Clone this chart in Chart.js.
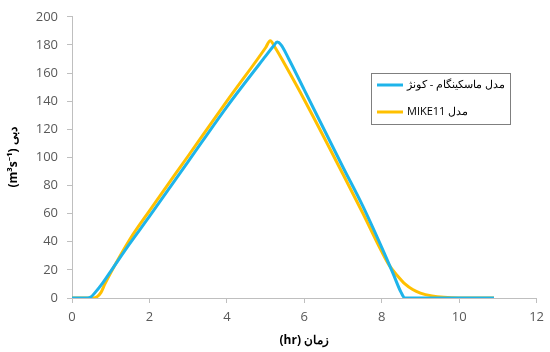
<!DOCTYPE html>
<html>
<head>
<meta charset="utf-8">
<script src="https://cdn.jsdelivr.net/npm/chart.js@4.4.0/dist/chart.umd.min.js"></script>
<style>
  html, body { margin: 0; padding: 0; background: #fff; }
  #wrap { width: 550px; height: 352px; }
</style>
</head>
<body>
<div id="wrap"><canvas id="chart" width="550" height="352"></canvas></div>
<script>
// Muskingum-Cunge model (blue)
const mcTime = [0, 0.4, 0.5, 0.6, 0.8, 1.0, 1.5, 2, 3, 4, 5, 5.2, 5.3, 5.4, 5.6, 6, 7, 7.5, 8, 8.3, 8.5, 8.6, 10.9];
const mcFlow = [0, 0, 1, 4, 11, 19, 39, 58, 97, 136, 172, 179, 182, 180, 170, 148, 93, 66, 36, 17, 4, 0, 0];

// MIKE11 model (yellow)
const mikeTime = [0, 0.55, 0.65, 0.75, 0.85, 1.0, 1.5, 2, 3, 4, 5, 5.12, 5.25, 5.5, 6, 7, 7.5, 8, 8.2, 8.4, 8.6, 8.8, 9, 9.3, 9.6, 10, 10.9];
const mikeFlow = [0, 0, 1, 4, 10, 18, 42, 62, 101, 140, 178, 183, 178, 166, 141, 88, 61, 33, 23, 16, 10, 6, 3.5, 1.5, 0.5, 0, 0];

const seriesLabels = ['مدل ماسکینگام - کونژ', 'MIKE11 مدل'];
const xTitle = '(hr) زمان';
const yTitle = '(m³s⁻¹) دبی';

const toPoints = (xs, ys) => xs.map((x, i) => ({ x: x, y: ys[i] }));

const FONT = '"Open Sans", "Noto Sans", sans-serif';

// legend drawn as a bordered box inside the plot, like the original
const boxLegend = {
    id: 'boxLegend',
    afterDraw(chart) {
        const ctx = chart.ctx;
        const x = 371, y = 73, w = 139, h = 51;
        ctx.save();
        ctx.strokeStyle = '#7f7f7f';
        ctx.lineWidth = 1;
        ctx.strokeRect(x + 0.5, y + 0.5, w, h);
        ctx.font = '11px ' + FONT;
        ctx.fillStyle = '#000';
        ctx.textBaseline = 'middle';
        ctx.textAlign = 'left';
        chart.data.datasets.forEach((ds, i) => {
            const ly = y + 12 + i * 27;
            ctx.strokeStyle = ds.borderColor;
            ctx.lineWidth = 3;
            ctx.beginPath();
            ctx.moveTo(x + 6, ly);
            ctx.lineTo(x + 32, ly);
            ctx.stroke();
            ctx.fillText(ds.label, x + 36, ly);
        });
        ctx.restore();
    }
};

new Chart(document.getElementById('chart'), {
    type: 'scatter',
    data: {
        datasets: [
            {
                label: seriesLabels[0],
                data: toPoints(mcTime, mcFlow),
                showLine: true,
                borderColor: '#1eb4ea',
                borderWidth: 3,
                pointRadius: 0,
                cubicInterpolationMode: 'monotone'
            },
            {
                label: seriesLabels[1],
                data: toPoints(mikeTime, mikeFlow),
                showLine: true,
                borderColor: '#ffc000',
                borderWidth: 3,
                pointRadius: 0,
                cubicInterpolationMode: 'monotone'
            }
        ]
    },
    options: {
        responsive: false,
        animation: false,
        layout: { padding: { top: 16, right: 6, left: 0, bottom: 0 } },
        plugins: { legend: { display: false }, tooltip: { enabled: false } },
        scales: {
            x: {
                type: 'linear', min: 0, max: 12,
                afterFit(scale) { scale.height = 54; },
                ticks: { stepSize: 2, color: '#595959', padding: 6, font: { family: FONT, size: 13 } },
                grid: { drawOnChartArea: false, drawTicks: true, tickLength: 5, color: '#bfbfbf' },
                border: { color: '#bfbfbf' },
                title: { display: true, text: xTitle, color: '#000', padding: { top: 2 }, font: { family: FONT, size: 12, weight: 'bold' } }
            },
            y: {
                min: 0, max: 200,
                afterFit(scale) { scale.width = 72; },
                ticks: { stepSize: 20, color: '#595959', padding: 9, font: { family: FONT, size: 13 } },
                grid: { drawOnChartArea: false, drawTicks: true, tickLength: 5, color: '#bfbfbf' },
                border: { color: '#bfbfbf' },
                title: { display: true, text: yTitle, color: '#000', padding: { top: 6 }, font: { family: FONT, size: 12, weight: 'bold' } }
            }
        }
    },
    plugins: [boxLegend]
});
</script>
</body>
</html>
